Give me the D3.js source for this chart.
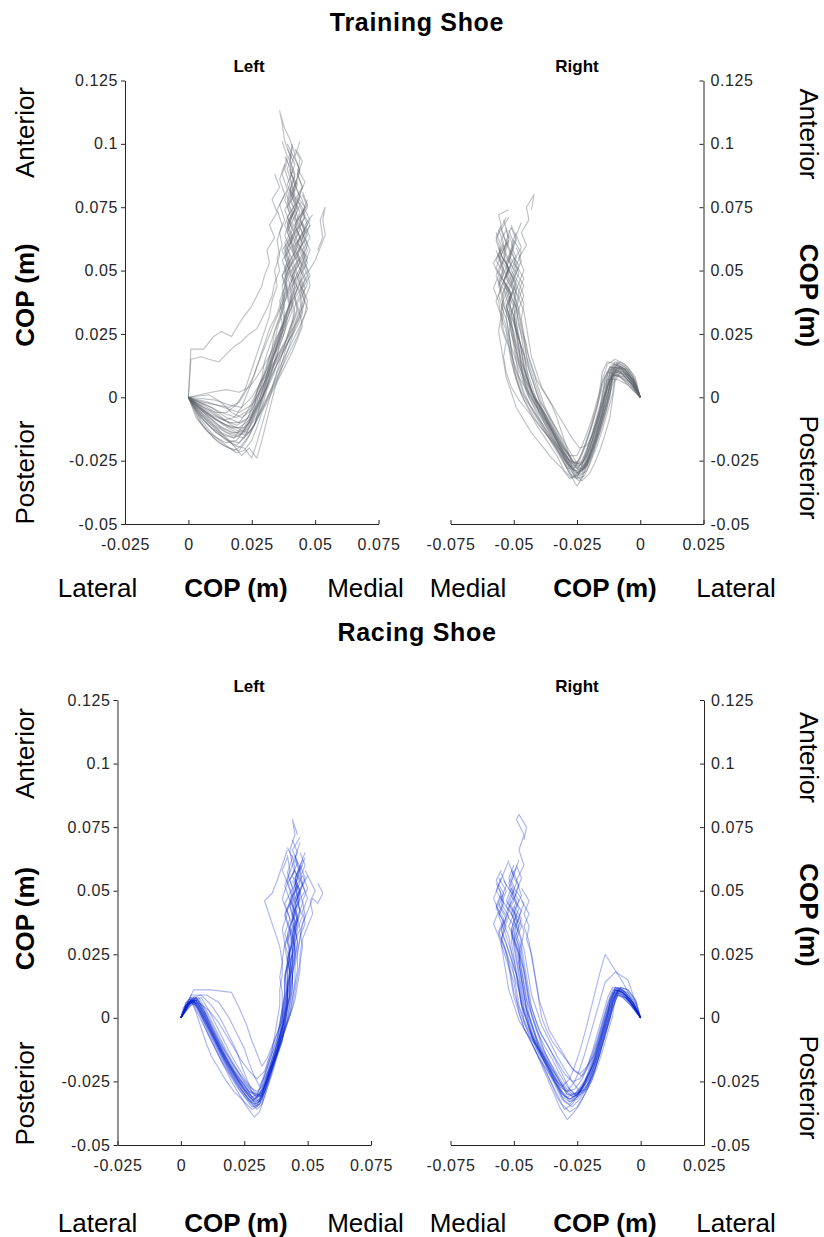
<!DOCTYPE html>
<html>
<head>
<meta charset="utf-8">
<script src="https://cdn.jsdelivr.net/npm/d3@7"></script>
<style>
  body { margin: 0; background: #fff; }
  svg { font-family: "Liberation Sans", Arial, sans-serif; }
</style>
</head>
<body>
<div id="chart"></div>
<script>
// COP values in mm (tick labels are shown in m)
const yTicks = [-50, -25, 0, 25, 50, 75, 100, 125];
const xTicksLeft = [-25, 0, 25, 50, 75];
const xTicksRight = [-75, -50, -25, 0, 25];

const trainingLeft = [
  [[0,0],[5,-4],[10,-8],[15,-11],[20,-12],[24,-9],[27,-4],[30,2],[32,8],[34,14],[36,20],[38,26],[39,31],[41,36],[40,41],[42,46],[40,51],[43,56],[41,61],[44,66],[42,71],[44,76],[41,81],[43,86]],
  [[0,0],[5,-6],[11,-11],[17,-15],[22,-16],[26,-11],[29,-4],[31,3],[34,10],[36,17],[39,23],[41,29],[43,35],[42,40],[44,45],[42,50],[45,55],[43,60],[46,65],[44,70],[46,75],[43,79]],
  [[0,0],[7,-3],[13,-6],[19,-8],[24,-5],[27,0],[30,6],[32,12],[34,18],[36,24],[38,30],[37,35],[39,40],[38,45],[40,50],[38,55],[41,60],[39,65],[41,70],[39,75],[42,80],[40,86],[42,92],[39,98]],
  [[0,0],[6,-7],[12,-13],[17,-18],[21,-23],[24,-20],[27,-24],[29,-17],[31,-9],[33,-1],[35,7],[37,14],[39,21],[41,28],[43,34],[42,39],[45,44],[43,49],[46,54],[44,59],[47,64],[45,69]],
  [[0,0],[1,19],[6,19],[10,24],[13,26],[17,24],[20,29],[22,32],[25,36],[27,40],[29,44],[30,48],[32,53],[31,58],[34,63],[32,68],[35,73],[33,78],[36,83],[34,88]],
  [[0,0],[1,15],[5,16],[8,15],[12,14],[15,17],[18,20],[21,22],[24,25],[27,27],[29,31],[31,35],[33,40],[34,45],[36,50],[35,55],[37,60],[36,65],[38,70],[36,76],[39,82],[37,88],[39,95],[37,101]],
  [[0,0],[8,-2],[14,-4],[20,-6],[25,-3],[28,2],[31,8],[34,14],[37,20],[40,25],[43,30],[45,34],[46,39],[48,44],[47,49],[50,54],[52,59],[54,64],[53,70],[54,75],[52,70],[53,63],[51,58]],
  [[0,0],[5,-8],[10,-13],[15,-17],[19,-19],[22,-16],[25,-10],[28,-4],[30,2],[32,8],[34,14],[35,20],[37,26],[38,32],[40,37],[39,42],[41,47],[39,52],[42,57],[40,62],[43,67],[41,72],[43,77],[40,82],[42,88],[40,94],[41,100]],
  [[0,0],[9,2],[15,3],[20,2],[24,4],[27,8],[30,13],[33,18],[35,23],[37,28],[39,33],[41,38],[43,43],[45,48],[43,53],[46,58],[44,63],[47,68],[45,73],[47,78]],
  [[0,0],[4,-7],[9,-12],[14,-15],[18,-16],[21,-12],[24,-7],[26,-1],[28,5],[31,11],[33,17],[35,23],[37,29],[36,34],[38,39],[37,44],[39,49],[37,54],[40,59],[38,64],[40,69],[38,74],[41,79],[39,84],[41,89],[38,95]],
  [[0,0],[7,-6],[13,-10],[19,-13],[24,-14],[27,-9],[30,-3],[33,4],[35,10],[38,16],[41,22],[44,28],[46,33],[47,38],[45,43],[48,48],[46,53],[48,58],[46,63],[48,68],[45,73]],
  [[0,0],[6,-9],[11,-14],[16,-17],[20,-18],[23,-14],[26,-7],[29,0],[31,7],[33,14],[35,21],[37,27],[38,33],[37,38],[39,43],[37,48],[40,53],[38,58],[41,63],[39,68],[41,73],[39,78],[42,84],[40,90],[42,96],[40,102],[38,106]],
  [[0,0],[8,-5],[14,-9],[19,-11],[23,-9],[26,-3],[28,3],[30,10],[32,16],[34,22],[37,28],[39,34],[41,40],[43,45],[41,50],[44,55],[42,60],[45,65],[43,70],[46,75],[44,80],[46,85],[43,90]],
  [[0,0],[5,-5],[11,-9],[17,-12],[22,-12],[25,-7],[28,-1],[30,6],[32,13],[34,20],[35,27],[37,33],[36,38],[38,43],[37,48],[39,53],[37,58],[40,63],[38,68],[40,73],[38,78],[40,84],[38,90],[40,96],[38,101],[37,108],[36,113],[38,106]],
  [[0,0],[3,-5],[8,-10],[13,-14],[18,-16],[22,-14],[25,-9],[28,-3],[31,4],[34,11],[37,17],[40,23],[42,29],[44,35],[46,40],[44,45],[47,50],[45,55],[47,60],[45,65],[48,70],[46,74]],
  [[0,0],[7,-9],[13,-15],[18,-19],[22,-20],[25,-24],[27,-18],[29,-11],[31,-4],[33,3],[35,10],[37,17],[39,24],[41,30],[42,36],[44,41],[42,46],[45,51],[43,56],[45,61],[43,66],[46,71]],
  [[0,0],[10,-1],[16,-3],[21,-4],[25,0],[28,5],[31,11],[34,17],[37,23],[39,29],[41,34],[40,39],[42,44],[40,49],[43,54],[41,59],[43,64],[41,69],[43,74],[41,79],[43,84],[40,89]],
  [[0,0],[6,-3],[12,-7],[17,-11],[21,-13],[24,-10],[27,-4],[29,2],[31,9],[33,16],[36,22],[38,28],[40,34],[42,39],[41,44],[43,49],[41,54],[44,59],[42,64],[44,69],[42,74],[44,79],[42,84],[44,90],[41,96]],
  [[0,0],[4,-9],[8,-14],[12,-18],[16,-20],[20,-21],[23,-17],[26,-11],[28,-4],[30,3],[32,10],[34,17],[36,23],[38,29],[40,35],[39,40],[41,45],[39,50],[42,55],[40,60],[42,65],[40,70],[43,75],[41,80],[43,85]],
  [[0,0],[8,1],[13,-2],[17,-6],[21,-8],[25,-5],[28,1],[31,7],[34,13],[37,18],[40,23],[43,28],[45,33],[44,38],[46,43],[44,48],[47,53],[45,58],[48,63],[46,68],[49,72]],
  [[0,0],[6,-4],[11,-6],[15,-6],[19,-3],[22,2],[24,8],[26,14],[28,20],[30,26],[32,32],[33,38],[35,44],[34,50],[36,56],[35,62],[37,68],[35,74],[38,80],[36,86],[38,92]],
  [[0,0],[5,-7],[10,-11],[15,-14],[20,-15],[24,-12],[28,-6],[31,0],[34,6],[37,12],[40,18],[43,24],[45,30],[47,35],[45,40],[47,45],[45,50],[47,55],[44,60],[46,65],[44,70],[47,75],[45,80]],
  [[0,0],[7,-7],[13,-12],[18,-14],[22,-13],[25,-8],[27,-2],[29,5],[31,12],[33,19],[34,26],[36,32],[38,38],[40,44],[39,49],[41,54],[39,59],[42,64],[40,69],[42,74],[39,79],[41,84],[39,90],[41,96],[39,100]],
  [[0,0],[9,-4],[15,-8],[20,-10],[24,-8],[27,-3],[30,4],[32,11],[34,18],[36,25],[38,31],[40,37],[42,43],[41,48],[43,53],[41,58],[44,63],[42,68],[44,73],[42,78],[45,83],[43,88],[44,94],[42,98]],
  [[0,0],[6,-6],[12,-11],[17,-14],[21,-14],[24,-10],[26,-4],[27,2],[29,8],[30,14],[32,20],[34,26],[36,31],[38,36],[37,41],[39,46],[38,51],[40,56],[38,61],[41,66],[39,71],[42,76],[40,81],[42,87],[40,93],[41,99]],
  [[0,0],[4,-4],[9,-7],[14,-9],[18,-8],[21,-4],[23,1],[25,6],[27,12],[29,17],[31,22],[33,27],[35,32],[37,37],[39,42],[38,47],[40,52],[38,57],[41,62],[39,67],[41,72],[39,77],[42,82]],
  [[0,0],[5,-9],[10,-15],[15,-19],[19,-22],[22,-21],[25,-17],[27,-12],[29,-6],[32,0],[35,6],[38,12],[41,18],[43,23],[45,28],[44,33],[46,38],[44,43],[47,48],[45,53],[47,58],[45,63],[48,68]],
  [[0,0],[7,-5],[12,-8],[16,-10],[20,-10],[23,-6],[26,0],[29,6],[32,11],[35,16],[38,21],[40,27],[42,33],[41,38],[43,43],[41,48],[44,53],[42,58],[44,63],[42,68],[45,73],[43,78],[45,83],[43,88],[45,93],[43,97]],
  [[0,0],[3,-8],[7,-13],[11,-16],[15,-18],[19,-17],[22,-13],[25,-8],[28,-2],[31,4],[33,10],[35,16],[36,22],[38,28],[39,34],[41,39],[40,44],[42,49],[40,54],[43,59],[41,64],[43,69],[41,74],[44,79],[42,84],[44,89],[42,95],[44,101]],
  [[0,0],[8,-7],[14,-11],[19,-14],[23,-15],[26,-11],[28,-5],[30,1],[32,7],[35,13],[38,19],[41,25],[43,31],[45,36],[44,41],[46,46],[44,51],[46,56],[43,61],[46,66],[44,71],[47,76],[45,81]],
  [[0,0],[6,-2],[11,-3],[16,-4],[20,-2],[23,3],[26,9],[28,15],[30,21],[32,27],[35,33],[37,39],[39,44],[38,49],[40,54],[38,59],[41,64],[39,69],[42,74],[40,79],[42,84],[40,90]],
  [[0,0],[5,-10],[10,-16],[14,-19],[18,-21],[21,-19],[24,-15],[27,-9],[30,-3],[33,3],[36,9],[38,15],[40,21],[42,27],[44,32],[43,37],[45,42],[43,47],[45,52],[43,57],[46,62],[44,67],[46,72],[44,77]]
];

const trainingRight = [
  [[0,0],[-3,7],[-6,11],[-9,12],[-11,8],[-12,1],[-14,-6],[-16,-13],[-18,-19],[-20,-24],[-22,-28],[-25,-28],[-28,-23],[-31,-18],[-34,-13],[-37,-8],[-40,-3],[-43,2],[-45,8],[-47,14],[-48,20],[-49,26],[-50,32],[-52,37],[-50,42],[-53,47],[-51,52],[-54,57],[-52,62]],
  [[0,0],[-2,8],[-5,12],[-8,14],[-11,11],[-13,4],[-15,-3],[-17,-10],[-19,-17],[-21,-23],[-23,-29],[-26,-30],[-29,-25],[-32,-19],[-35,-14],[-38,-9],[-41,-4],[-44,1],[-46,7],[-48,13],[-49,19],[-51,25],[-52,31],[-54,36],[-52,41],[-55,46],[-53,51],[-56,56],[-54,61],[-56,66]],
  [[0,0],[-4,6],[-8,10],[-12,11],[-14,6],[-15,-1],[-17,-8],[-19,-15],[-21,-21],[-23,-27],[-25,-32],[-28,-30],[-31,-24],[-34,-18],[-37,-12],[-40,-6],[-42,0],[-44,6],[-46,12],[-47,18],[-48,24],[-49,30],[-48,35],[-50,40],[-48,45],[-51,50],[-49,55],[-51,60],[-49,65]],
  [[0,0],[-3,9],[-6,13],[-10,15],[-13,13],[-15,7],[-16,0],[-18,-7],[-20,-14],[-22,-20],[-24,-25],[-27,-26],[-30,-22],[-33,-17],[-36,-11],[-39,-5],[-42,0],[-44,6],[-46,12],[-47,18],[-48,24],[-50,30],[-52,36],[-51,41],[-54,46],[-52,51],[-55,56],[-53,61],[-55,66],[-52,71]],
  [[0,0],[-4,5],[-8,8],[-11,9],[-13,4],[-14,-3],[-16,-10],[-18,-17],[-20,-23],[-22,-29],[-24,-33],[-27,-31],[-30,-25],[-33,-19],[-36,-13],[-39,-7],[-42,-2],[-45,4],[-47,10],[-49,16],[-50,22],[-51,28],[-53,34],[-55,39],[-53,44],[-56,49],[-54,54],[-56,59]],
  [[0,0],[-3,6],[-7,10],[-10,11],[-12,6],[-13,-1],[-15,-8],[-17,-15],[-19,-21],[-21,-27],[-23,-32],[-25,-35],[-28,-30],[-31,-24],[-35,-17],[-39,-10],[-43,-4],[-46,2],[-48,8],[-49,14],[-50,20],[-51,26],[-52,32],[-51,38],[-53,43],[-51,48],[-53,53],[-51,58]],
  [[0,0],[-3,7],[-6,11],[-9,13],[-11,9],[-12,2],[-14,-5],[-16,-12],[-18,-18],[-20,-23],[-22,-27],[-25,-26],[-28,-21],[-31,-16],[-34,-11],[-37,-6],[-40,-1],[-42,5],[-44,11],[-45,17],[-46,23],[-47,29],[-48,35],[-46,40],[-48,45],[-46,50],[-48,55],[-45,60],[-47,65],[-44,70],[-45,75],[-42,80],[-43,74]],
  [[0,0],[-4,4],[-8,8],[-11,9],[-13,4],[-15,-3],[-17,-10],[-19,-17],[-21,-23],[-24,-27],[-27,-25],[-31,-19],[-35,-13],[-39,-7],[-42,-2],[-45,3],[-48,8],[-50,14],[-52,20],[-53,26],[-55,32],[-56,38],[-58,43],[-56,48],[-58,53],[-55,58],[-57,63],[-55,68],[-56,72],[-52,74]],
  [[0,0],[-2,6],[-5,10],[-9,12],[-11,8],[-13,1],[-15,-6],[-17,-13],[-19,-19],[-21,-25],[-23,-30],[-26,-31],[-29,-26],[-32,-20],[-35,-15],[-38,-10],[-41,-5],[-44,0],[-46,6],[-47,12],[-49,18],[-50,24],[-51,30],[-53,35],[-51,40],[-54,45],[-52,50],[-54,55]],
  [[0,0],[-5,8],[-9,13],[-13,14],[-15,10],[-16,3],[-17,-4],[-19,-11],[-21,-17],[-23,-22],[-25,-26],[-28,-25],[-31,-20],[-34,-14],[-37,-8],[-40,-3],[-43,2],[-45,8],[-47,14],[-48,20],[-49,26],[-51,32],[-50,37],[-52,42],[-50,47],[-53,52],[-51,57],[-53,62],[-51,67]],
  [[0,0],[-4,7],[-8,10],[-11,10],[-13,5],[-15,-2],[-17,-9],[-19,-15],[-21,-19],[-24,-20],[-27,-16],[-30,-11],[-33,-6],[-36,-1],[-39,4],[-41,10],[-43,16],[-44,22],[-45,28],[-46,34],[-48,39],[-46,44],[-49,49],[-47,54],[-49,59]],
  [[0,0],[-3,7],[-7,11],[-10,12],[-12,7],[-14,0],[-16,-7],[-18,-14],[-20,-20],[-22,-25],[-25,-28],[-28,-27],[-32,-22],[-36,-16],[-40,-11],[-44,-6],[-48,-1],[-51,4],[-53,10],[-54,16],[-53,22],[-55,28],[-54,34],[-56,40],[-54,46],[-57,51],[-55,56],[-57,62],[-55,67]],
  [[0,0],[-3,5],[-6,8],[-9,9],[-11,5],[-13,-2],[-15,-9],[-17,-16],[-19,-22],[-21,-27],[-24,-30],[-27,-28],[-30,-23],[-33,-17],[-36,-11],[-39,-5],[-42,0],[-44,6],[-45,12],[-46,18],[-47,24],[-48,30],[-49,36],[-48,42],[-50,47],[-48,52],[-51,57],[-49,62],[-51,67]],
  [[0,0],[-5,5],[-9,7],[-13,7],[-15,2],[-16,-5],[-18,-12],[-20,-18],[-22,-24],[-24,-29],[-27,-32],[-30,-29],[-33,-23],[-37,-17],[-41,-11],[-44,-5],[-47,1],[-49,7],[-50,13],[-51,19],[-52,25],[-53,31],[-55,36],[-53,41],[-56,46],[-54,51],[-56,56]],
  [[0,0],[-3,8],[-6,12],[-10,14],[-12,10],[-13,3],[-15,-4],[-17,-11],[-19,-17],[-21,-22],[-23,-26],[-26,-26],[-29,-21],[-32,-15],[-35,-9],[-38,-3],[-40,3],[-42,9],[-44,15],[-45,21],[-47,27],[-48,33],[-50,38],[-49,43],[-51,48],[-49,53],[-51,58],[-49,63],[-51,68]],
  [[0,0],[-3,5],[-7,8],[-10,9],[-12,4],[-14,-3],[-16,-10],[-18,-17],[-20,-23],[-22,-28],[-25,-30],[-28,-27],[-31,-22],[-35,-16],[-39,-10],[-42,-4],[-45,2],[-47,8],[-49,14],[-51,20],[-52,26],[-53,32],[-52,37],[-54,42],[-52,47],[-55,52],[-53,57],[-55,62],[-53,66]],
  [[0,0],[-4,8],[-7,12],[-11,13],[-13,9],[-14,2],[-16,-5],[-18,-12],[-20,-18],[-22,-23],[-24,-27],[-27,-27],[-30,-22],[-33,-16],[-36,-10],[-39,-4],[-41,2],[-43,8],[-45,14],[-47,20],[-49,26],[-50,32],[-52,38],[-50,43],[-53,48],[-51,53],[-54,58],[-52,63],[-54,70]],
  [[0,0],[-2,7],[-5,11],[-8,12],[-10,8],[-11,1],[-13,-6],[-15,-13],[-17,-19],[-19,-24],[-21,-29],[-24,-31],[-27,-27],[-30,-21],[-33,-15],[-36,-9],[-39,-4],[-42,1],[-45,6],[-47,12],[-48,18],[-49,24],[-50,30],[-49,35],[-51,40],[-49,45],[-52,50],[-50,55]],
  [[0,0],[-4,6],[-8,10],[-12,12],[-14,8],[-16,1],[-18,-6],[-20,-13],[-22,-19],[-24,-24],[-26,-28],[-29,-28],[-32,-23],[-35,-18],[-38,-13],[-41,-8],[-44,-3],[-47,2],[-49,8],[-51,14],[-52,20],[-54,26],[-55,32],[-54,38],[-56,44],[-54,49],[-57,54],[-55,60],[-57,65]],
  [[0,0],[-3,6],[-6,10],[-9,11],[-11,7],[-12,0],[-14,-7],[-16,-14],[-18,-20],[-20,-26],[-22,-31],[-25,-32],[-28,-28],[-31,-22],[-34,-16],[-37,-10],[-40,-4],[-43,2],[-45,8],[-46,14],[-47,20],[-49,26],[-50,32],[-49,38],[-51,44],[-49,49],[-52,54],[-50,59],[-52,64]],
  [[0,0],[-4,7],[-7,11],[-11,12],[-13,7],[-14,0],[-15,-7],[-17,-14],[-19,-20],[-21,-25],[-23,-29],[-26,-29],[-29,-24],[-33,-19],[-37,-14],[-40,-9],[-43,-4],[-46,1],[-48,7],[-50,13],[-51,19],[-52,25],[-51,31],[-53,36],[-51,41],[-54,46],[-52,51],[-54,56],[-52,61],[-53,67]],
  [[0,0],[-3,6],[-6,9],[-10,10],[-12,6],[-13,-1],[-15,-8],[-17,-15],[-19,-21],[-21,-26],[-24,-28],[-27,-25],[-30,-20],[-33,-14],[-36,-8],[-39,-2],[-41,4],[-43,10],[-45,16],[-46,22],[-48,28],[-49,34],[-48,39],[-50,44],[-48,49],[-50,54],[-47,59],[-49,64],[-47,69]],
  [[0,0],[-3,8],[-6,12],[-9,14],[-11,10],[-12,3],[-13,-4],[-15,-11],[-17,-17],[-19,-23],[-21,-27],[-24,-29],[-27,-26],[-29,-20],[-31,-14],[-33,-8],[-35,-3],[-38,2],[-41,7],[-43,13],[-45,19],[-46,25],[-47,31],[-46,37],[-48,42],[-46,47],[-49,52],[-47,57],[-50,62]],
  [[0,0],[-4,6],[-7,9],[-10,10],[-12,5],[-14,-2],[-16,-9],[-18,-16],[-20,-22],[-22,-27],[-25,-31],[-28,-32],[-31,-28],[-35,-24],[-39,-19],[-43,-14],[-46,-9],[-49,-4],[-51,2],[-53,8],[-54,14],[-55,20],[-56,26],[-55,32],[-57,38],[-55,43],[-57,48],[-55,53],[-57,58]],
  [[0,0],[-2,6],[-5,9],[-8,10],[-10,6],[-11,-1],[-12,-8],[-14,-15],[-16,-21],[-18,-26],[-20,-30],[-23,-33],[-26,-30],[-29,-25],[-32,-19],[-35,-13],[-38,-8],[-41,-3],[-44,2],[-46,8],[-48,14],[-49,20],[-50,26],[-52,31],[-50,36],[-53,41],[-51,46],[-53,51],[-51,56],[-53,61]],
  [[0,0],[-5,6],[-9,9],[-13,10],[-15,6],[-17,-1],[-19,-8],[-21,-14],[-23,-19],[-25,-23],[-28,-23],[-31,-19],[-34,-14],[-37,-9],[-40,-4],[-43,1],[-45,6],[-47,12],[-48,18],[-50,24],[-51,30],[-53,36],[-51,41],[-54,46],[-52,51],[-55,56],[-53,61],[-55,67],[-53,71]],
  [[0,0],[-3,7],[-6,11],[-10,13],[-12,9],[-14,2],[-15,-5],[-17,-12],[-19,-18],[-21,-24],[-23,-28],[-26,-29],[-29,-26],[-32,-21],[-36,-16],[-40,-11],[-43,-6],[-46,-1],[-48,4],[-50,10],[-51,16],[-52,22],[-53,28],[-55,34],[-54,40],[-56,45],[-54,50],[-56,55],[-54,60]],
  [[0,0],[-4,8],[-8,11],[-12,12],[-14,7],[-15,0],[-17,-7],[-19,-14],[-21,-20],[-23,-25],[-26,-27],[-29,-24],[-32,-19],[-35,-13],[-38,-7],[-41,-1],[-43,5],[-45,11],[-46,17],[-48,23],[-49,29],[-50,35],[-49,41],[-51,46],[-49,51],[-52,56],[-50,61],[-52,66]]
];

const racingLeft = [
  [[0,0],[2,5],[5,7],[8,2],[11,-4],[14,-10],[17,-16],[20,-21],[23,-26],[26,-30],[29,-33],[31,-32],[33,-27],[35,-21],[37,-15],[39,-10],[40,-4],[41,2],[42,8],[42,14],[43,20],[43,26],[44,32],[45,37],[44,42],[46,47],[45,52],[47,57],[45,62]],
  [[0,0],[2,4],[5,8],[8,4],[11,-2],[14,-8],[17,-14],[20,-19],[23,-24],[26,-28],[29,-32],[32,-30],[34,-24],[36,-18],[38,-12],[40,-6],[41,0],[42,6],[42,12],[43,18],[44,24],[45,30],[47,35],[46,40],[48,45],[47,50],[49,55],[47,60],[49,65]],
  [[0,0],[3,6],[6,6],[9,0],[12,-6],[15,-12],[18,-18],[21,-23],[24,-28],[27,-33],[30,-36],[32,-34],[34,-28],[36,-22],[38,-15],[40,-9],[41,-3],[42,3],[43,9],[43,15],[44,21],[44,27],[45,33],[44,38],[46,43],[44,48],[47,53],[45,58]],
  [[0,0],[5,11],[12,11],[20,10],[23,4],[26,-3],[28,-9],[30,-14],[32,-19],[34,-16],[36,-11],[38,-6],[40,-1],[41,5],[42,11],[41,17],[43,23],[41,29],[43,35],[41,41],[44,47],[42,53],[45,58]],
  [[0,0],[4,7],[7,5],[10,-1],[13,-7],[16,-13],[19,-18],[22,-23],[25,-27],[28,-31],[31,-33],[33,-29],[35,-23],[37,-17],[39,-11],[41,-5],[43,1],[44,7],[45,13],[46,19],[46,25],[47,31],[48,37],[50,42],[52,47],[54,45],[56,49],[54,53]],
  [[0,0],[3,5],[6,7],[9,1],[12,-5],[15,-11],[18,-17],[21,-22],[24,-27],[27,-31],[30,-33],[32,-30],[34,-24],[36,-18],[38,-12],[39,-6],[40,0],[41,6],[42,12],[42,18],[43,24],[42,30],[44,36],[42,42],[44,48],[42,54],[44,60],[43,66],[45,72],[44,78],[46,72]],
  [[0,0],[2,5],[5,6],[8,0],[11,-7],[14,-13],[17,-19],[20,-25],[23,-30],[26,-35],[29,-39],[31,-37],[33,-31],[35,-24],[37,-17],[39,-10],[40,-4],[41,2],[42,8],[43,14],[43,20],[44,26],[43,32],[45,38],[43,44],[46,49],[44,54]],
  [[0,0],[3,4],[6,7],[9,2],[12,-4],[15,-10],[18,-16],[21,-21],[24,-25],[27,-29],[30,-30],[32,-26],[34,-20],[36,-14],[38,-8],[39,-2],[40,4],[40,10],[39,16],[40,22],[39,28],[37,34],[35,40],[33,46],[36,49],[38,54],[40,60],[42,66]],
  [[0,0],[4,6],[7,4],[10,-2],[13,-8],[16,-14],[19,-19],[22,-24],[25,-28],[28,-31],[31,-30],[34,-25],[36,-19],[38,-13],[40,-7],[42,-1],[43,5],[44,11],[44,17],[45,23],[46,29],[45,35],[47,41],[46,47],[48,52],[46,57],[48,62]],
  [[0,0],[3,7],[6,8],[9,3],[12,-3],[15,-9],[18,-14],[21,-19],[24,-23],[27,-27],[30,-29],[33,-26],[35,-20],[37,-14],[39,-8],[40,-2],[41,4],[42,10],[43,16],[44,22],[44,28],[45,34],[44,40],[46,45],[44,50],[46,55],[44,60],[46,65],[44,70]],
  [[0,0],[2,6],[5,7],[8,1],[11,-5],[14,-11],[17,-17],[20,-22],[23,-27],[26,-31],[29,-35],[31,-34],[33,-28],[35,-22],[37,-16],[39,-10],[41,-4],[43,2],[44,8],[45,14],[45,20],[46,26],[47,32],[49,37],[48,42],[50,47],[48,52],[50,56]],
  [[0,0],[4,5],[7,6],[11,3],[15,-2],[18,-7],[21,-12],[24,-17],[27,-21],[30,-24],[33,-21],[35,-15],[37,-9],[39,-3],[40,3],[41,9],[41,15],[42,21],[43,27],[41,33],[43,39],[41,45],[44,51],[42,57],[44,63],[42,67]],
  [[0,0],[3,5],[6,8],[9,3],[12,-3],[15,-9],[18,-15],[21,-20],[24,-25],[27,-29],[30,-31],[32,-28],[34,-22],[36,-16],[38,-10],[40,-4],[41,2],[42,8],[43,14],[43,20],[44,26],[45,32],[46,38],[45,43],[47,48],[45,53],[47,58],[45,63],[47,69]],
  [[0,0],[4,6],[8,8],[11,3],[14,-3],[17,-9],[20,-15],[23,-20],[26,-25],[29,-29],[32,-31],[34,-27],[36,-21],[38,-15],[40,-9],[41,-3],[42,3],[43,9],[43,15],[44,21],[45,27],[44,33],[46,39],[45,45],[47,50],[45,55],[47,60]],
  [[0,0],[1,4],[4,7],[7,1],[10,-5],[13,-11],[16,-17],[19,-22],[22,-27],[25,-31],[28,-35],[31,-34],[33,-29],[35,-23],[37,-17],[39,-11],[41,-5],[43,1],[45,7],[46,13],[47,19],[47,25],[48,31],[50,36],[52,41],[51,46],[53,50],[51,54],[49,58]],
  [[0,0],[2,4],[4,7],[6,2],[8,-4],[10,-10],[12,-15],[15,-20],[18,-25],[21,-29],[25,-33],[28,-36],[30,-35],[32,-30],[34,-24],[36,-18],[38,-12],[40,-6],[41,0],[42,6],[42,12],[43,18],[42,24],[44,30],[43,36],[45,42],[43,47],[46,52]],
  [[0,0],[3,6],[6,7],[9,2],[12,-5],[15,-11],[18,-17],[21,-22],[24,-27],[27,-31],[30,-34],[32,-31],[34,-25],[36,-19],[38,-13],[39,-7],[41,-1],[42,5],[42,11],[43,17],[42,23],[44,29],[43,35],[45,41],[43,46],[46,51],[44,56],[46,61],[44,66],[47,71]],
  [[0,0],[4,9],[10,9],[15,6],[19,0],[22,-6],[25,-12],[27,-18],[29,-23],[31,-27],[33,-23],[35,-17],[37,-11],[39,-5],[40,1],[41,7],[42,13],[42,19],[43,25],[44,31],[46,36],[44,41],[47,46],[45,51],[48,56]],
  [[0,0],[2,5],[5,8],[8,3],[11,-3],[14,-9],[17,-15],[20,-20],[23,-25],[26,-29],[29,-32],[31,-30],[33,-24],[36,-18],[38,-12],[40,-6],[42,0],[43,6],[44,12],[44,18],[45,24],[46,30],[45,36],[47,42],[46,48],[48,53],[47,58],[49,63]],
  [[0,0],[3,6],[7,7],[10,1],[13,-6],[16,-12],[19,-18],[22,-23],[25,-28],[28,-32],[30,-35],[32,-33],[34,-26],[36,-20],[38,-14],[39,-8],[40,-2],[40,4],[41,10],[41,16],[42,22],[41,28],[43,34],[41,40],[43,46],[41,52],[43,58],[42,64]],
  [[0,0],[3,5],[6,8],[9,4],[12,-2],[15,-8],[18,-14],[21,-19],[24,-24],[27,-28],[30,-31],[32,-29],[34,-24],[36,-19],[38,-14],[40,-8],[42,-2],[44,4],[45,10],[46,16],[47,22],[48,28],[47,34],[49,40],[48,46],[50,51],[48,56]],
  [[0,0],[2,6],[4,8],[7,3],[10,-3],[13,-9],[16,-15],[19,-21],[22,-26],[25,-30],[28,-33],[30,-31],[32,-25],[34,-19],[36,-13],[37,-7],[38,-1],[39,5],[39,11],[40,17],[40,23],[41,29],[40,35],[42,41],[40,47],[42,53],[40,58],[42,63]],
  [[0,0],[4,8],[8,9],[12,5],[16,-1],[19,-7],[22,-13],[24,-19],[26,-24],[28,-29],[30,-32],[32,-29],[34,-22],[36,-16],[38,-10],[40,-4],[41,2],[43,8],[44,14],[44,20],[45,26],[44,32],[46,38],[44,44],[47,49],[45,54],[47,59],[45,64]],
  [[0,0],[3,5],[5,7],[8,1],[11,-6],[14,-12],[17,-18],[20,-23],[23,-28],[26,-32],[29,-34],[32,-32],[34,-26],[36,-20],[38,-14],[40,-8],[41,-2],[42,4],[43,10],[44,16],[43,22],[45,28],[44,34],[46,40],[44,45],[47,50],[45,55],[48,60]],
  [[0,0],[2,5],[5,7],[8,2],[11,-4],[14,-10],[17,-16],[20,-22],[23,-27],[26,-31],[29,-34],[31,-33],[33,-27],[35,-20],[37,-13],[39,-7],[41,-1],[42,5],[43,11],[44,17],[45,23],[45,29],[46,35],[48,40],[46,45],[49,50],[47,55],[49,60],[47,65]],
  [[0,0],[4,7],[7,8],[10,3],[13,-3],[16,-9],[19,-15],[22,-20],[25,-25],[28,-29],[31,-31],[33,-27],[35,-21],[37,-15],[38,-9],[39,-3],[40,3],[41,9],[41,15],[42,21],[43,27],[42,33],[44,39],[43,44],[45,49],[43,54],[45,59],[44,64]]
];

const racingRight = [
  [[0,0],[-3,5],[-6,9],[-9,11],[-11,7],[-13,1],[-15,-6],[-17,-13],[-19,-19],[-21,-24],[-24,-29],[-27,-32],[-30,-31],[-33,-26],[-36,-20],[-39,-14],[-42,-8],[-44,-2],[-46,4],[-47,10],[-48,16],[-49,22],[-50,28],[-51,34],[-50,39],[-53,44],[-51,49],[-54,54]],
  [[0,0],[-4,6],[-7,10],[-10,11],[-12,6],[-14,-1],[-16,-8],[-18,-15],[-20,-21],[-22,-26],[-25,-31],[-28,-34],[-31,-32],[-34,-26],[-37,-20],[-40,-13],[-43,-7],[-45,-1],[-47,5],[-48,11],[-49,17],[-50,23],[-52,29],[-54,35],[-52,40],[-55,45],[-53,50],[-56,55]],
  [[0,0],[-2,7],[-5,11],[-8,12],[-10,9],[-12,2],[-14,-5],[-16,-12],[-18,-18],[-20,-23],[-23,-28],[-26,-31],[-29,-30],[-32,-25],[-35,-19],[-38,-13],[-40,-7],[-42,-1],[-44,5],[-45,11],[-46,17],[-47,23],[-49,29],[-51,35],[-49,40],[-52,45],[-50,50],[-52,55],[-50,60]],
  [[0,0],[-7,14],[-14,25],[-16,18],[-18,10],[-20,2],[-22,-6],[-24,-13],[-26,-19],[-28,-24],[-31,-27],[-34,-24],[-37,-18],[-40,-12],[-43,-6],[-45,0],[-47,6],[-48,12],[-49,18],[-50,24],[-51,30],[-50,36],[-53,41],[-51,46]],
  [[0,0],[-3,6],[-6,10],[-9,12],[-11,8],[-13,1],[-15,-6],[-17,-13],[-19,-19],[-22,-25],[-25,-30],[-28,-32],[-31,-30],[-34,-24],[-37,-18],[-40,-12],[-42,-6],[-44,0],[-46,6],[-47,12],[-48,18],[-49,24],[-50,30],[-48,36],[-50,42],[-47,48],[-49,54],[-46,60],[-48,66],[-46,72],[-49,78],[-48,80],[-45,75],[-46,70]],
  [[0,0],[-4,5],[-8,9],[-11,10],[-13,5],[-15,-2],[-17,-9],[-19,-15],[-21,-20],[-23,-23],[-26,-21],[-29,-17],[-32,-13],[-35,-9],[-37,-5],[-39,0],[-40,6],[-41,12],[-42,18],[-43,24],[-44,30],[-46,36],[-44,41],[-47,46]],
  [[0,0],[-3,4],[-6,8],[-9,10],[-11,5],[-13,-2],[-15,-9],[-17,-16],[-19,-22],[-21,-28],[-24,-34],[-27,-38],[-29,-40],[-32,-35],[-35,-28],[-38,-21],[-41,-14],[-44,-7],[-46,-1],[-47,5],[-48,11],[-49,17],[-51,23],[-53,29],[-55,35],[-53,40],[-56,45]],
  [[0,0],[-4,6],[-7,10],[-10,11],[-12,6],[-14,-1],[-16,-8],[-18,-15],[-20,-21],[-23,-26],[-26,-30],[-29,-31],[-32,-28],[-36,-22],[-40,-16],[-43,-10],[-46,-4],[-48,2],[-49,8],[-50,14],[-52,20],[-54,26],[-56,32],[-58,37],[-56,42],[-58,47],[-56,52],[-54,57],[-52,62]],
  [[0,0],[-3,5],[-6,8],[-9,9],[-11,4],[-13,-3],[-15,-10],[-17,-17],[-19,-23],[-22,-28],[-25,-32],[-28,-33],[-31,-29],[-34,-23],[-37,-17],[-40,-11],[-42,-5],[-44,1],[-45,7],[-46,13],[-47,19],[-48,25],[-50,31],[-52,36],[-50,41],[-53,46],[-51,51]],
  [[0,0],[-4,7],[-8,11],[-11,12],[-13,8],[-15,1],[-17,-6],[-19,-13],[-21,-19],[-23,-24],[-26,-28],[-29,-29],[-32,-25],[-35,-20],[-38,-14],[-41,-8],[-43,-2],[-45,4],[-46,10],[-47,16],[-48,22],[-48,28],[-50,34],[-48,39],[-51,44],[-49,49],[-51,54],[-49,59]],
  [[0,0],[-5,15],[-10,18],[-14,14],[-16,7],[-18,0],[-20,-7],[-22,-14],[-24,-20],[-26,-25],[-29,-29],[-32,-27],[-35,-21],[-38,-15],[-41,-9],[-43,-3],[-45,3],[-46,9],[-47,15],[-48,21],[-47,27],[-49,33],[-47,39],[-50,44]],
  [[0,0],[-3,6],[-6,9],[-9,10],[-11,6],[-13,-1],[-15,-8],[-17,-15],[-19,-21],[-21,-27],[-24,-32],[-27,-35],[-30,-33],[-33,-27],[-36,-21],[-39,-15],[-42,-9],[-44,-3],[-45,3],[-46,9],[-47,15],[-48,21],[-49,27],[-51,33],[-49,38],[-52,43],[-50,48],[-52,53],[-50,58]],
  [[0,0],[-4,6],[-7,9],[-10,10],[-12,5],[-14,-2],[-16,-9],[-18,-16],[-20,-22],[-23,-27],[-26,-30],[-29,-30],[-32,-26],[-36,-20],[-40,-14],[-43,-8],[-46,-2],[-48,4],[-50,10],[-51,16],[-52,22],[-54,28],[-56,33],[-54,38],[-57,43],[-55,48]],
  [[0,0],[-3,5],[-6,9],[-9,11],[-11,7],[-12,0],[-14,-7],[-16,-14],[-18,-20],[-20,-25],[-23,-29],[-26,-30],[-29,-27],[-32,-22],[-35,-16],[-38,-11],[-41,-5],[-43,1],[-44,7],[-45,13],[-46,19],[-47,25],[-49,31],[-47,36],[-50,41],[-48,46],[-51,51]],
  [[0,0],[-3,7],[-7,11],[-10,12],[-12,7],[-14,0],[-16,-7],[-18,-14],[-20,-20],[-22,-26],[-25,-31],[-28,-33],[-31,-31],[-34,-25],[-37,-19],[-40,-13],[-43,-7],[-46,-1],[-48,5],[-49,11],[-50,17],[-51,23],[-53,29],[-55,34],[-53,39],[-56,44],[-54,49],[-57,54],[-55,58]],
  [[0,0],[-3,6],[-7,10],[-10,11],[-12,6],[-14,-1],[-16,-8],[-18,-14],[-21,-19],[-24,-22],[-27,-20],[-30,-15],[-33,-10],[-36,-5],[-38,1],[-40,7],[-41,13],[-42,19],[-43,25],[-45,31],[-44,36],[-46,41],[-44,46],[-47,51]],
  [[0,0],[-4,5],[-7,8],[-10,9],[-12,4],[-14,-3],[-16,-10],[-18,-17],[-21,-23],[-24,-29],[-27,-34],[-30,-36],[-33,-31],[-36,-24],[-39,-17],[-42,-10],[-44,-4],[-46,2],[-47,8],[-48,14],[-50,20],[-51,26],[-52,32],[-54,37],[-52,42],[-55,47],[-53,52],[-55,57]],
  [[0,0],[-2,6],[-5,10],[-8,11],[-10,7],[-12,0],[-14,-7],[-16,-14],[-18,-20],[-20,-25],[-22,-29],[-25,-31],[-28,-28],[-31,-22],[-34,-16],[-37,-10],[-40,-5],[-42,1],[-44,7],[-45,13],[-46,19],[-48,25],[-50,31],[-49,36],[-51,41],[-49,46],[-52,51],[-50,56],[-52,61]],
  [[0,0],[-3,6],[-6,10],[-9,11],[-11,6],[-13,-1],[-15,-8],[-17,-15],[-19,-21],[-21,-26],[-24,-30],[-27,-31],[-30,-28],[-33,-23],[-37,-17],[-41,-11],[-45,-6],[-48,-1],[-50,5],[-52,11],[-53,17],[-54,23],[-55,29],[-54,35],[-56,40],[-54,45],[-57,50],[-55,55]],
  [[0,0],[-4,6],[-8,10],[-11,11],[-13,6],[-15,-1],[-17,-8],[-19,-14],[-21,-19],[-24,-24],[-27,-25],[-30,-22],[-33,-17],[-36,-12],[-39,-7],[-41,-2],[-43,4],[-44,10],[-45,16],[-46,22],[-47,28],[-46,34],[-48,40],[-46,45],[-49,50],[-47,55],[-49,60]],
  [[0,0],[-3,5],[-6,8],[-9,9],[-11,4],[-13,-3],[-15,-10],[-17,-17],[-19,-24],[-22,-30],[-25,-35],[-28,-37],[-31,-34],[-34,-28],[-37,-22],[-40,-16],[-43,-10],[-46,-4],[-48,2],[-50,8],[-51,14],[-52,20],[-53,26],[-55,31],[-53,36],[-56,41],[-54,46],[-56,51]],
  [[0,0],[-2,7],[-5,11],[-8,12],[-10,8],[-11,1],[-13,-6],[-15,-13],[-17,-19],[-19,-24],[-21,-28],[-24,-29],[-27,-25],[-30,-20],[-33,-15],[-36,-9],[-39,-3],[-41,3],[-43,9],[-44,15],[-45,21],[-46,27],[-48,33],[-50,38],[-48,43],[-51,48],[-49,53],[-51,58]],
  [[0,0],[-4,7],[-7,11],[-10,12],[-12,8],[-14,1],[-16,-6],[-18,-13],[-20,-19],[-22,-25],[-25,-30],[-28,-32],[-31,-30],[-34,-25],[-37,-19],[-40,-13],[-43,-7],[-45,-1],[-47,5],[-48,11],[-50,17],[-52,23],[-54,29],[-56,34],[-54,39],[-57,44],[-55,49],[-57,53]],
  [[0,0],[-3,6],[-7,10],[-10,11],[-12,7],[-13,0],[-15,-7],[-17,-14],[-19,-20],[-21,-25],[-24,-29],[-27,-30],[-30,-27],[-33,-22],[-36,-17],[-39,-11],[-41,-5],[-43,1],[-45,7],[-46,13],[-47,19],[-48,25],[-47,31],[-49,37],[-47,42],[-50,47],[-48,52],[-50,57],[-48,62]]
];

const GRAY = 'rgb(95,100,107)';
const BLUE = 'rgb(0,34,208)';
const TEXT = '#262626';

const svg = d3.select('#chart').append('svg')
    .attr('width', 824)
    .attr('height', 1237);

const panels = [
    { traces: trainingLeft,  xDomain: [-25, 75], xTicks: xTicksLeft,  left: 125,   right: 378.5, top: 80.5, bottom: 524,  side: 'left',  color: GRAY, opacity: 0.4 },
    { traces: trainingRight, xDomain: [-75, 25], xTicks: xTicksRight, left: 450.5, right: 703.5, top: 80.5, bottom: 524,  side: 'right', color: GRAY, opacity: 0.4 },
    { traces: racingLeft,    xDomain: [-25, 75], xTicks: xTicksLeft,  left: 117.5, right: 371,   top: 700,  bottom: 1145, side: 'left',  color: BLUE, opacity: 0.33 },
    { traces: racingRight,   xDomain: [-75, 25], xTicks: xTicksRight, left: 450.5, right: 704,   top: 700,  bottom: 1145, side: 'right', color: BLUE, opacity: 0.33 }
];

const fmt = d => String(d / 1000);

function styleAxis(sel) {
    sel.select('.domain').attr('stroke', TEXT);
    sel.selectAll('.tick line').attr('stroke', TEXT);
    sel.selectAll('text')
        .attr('font-size', 16)
        .attr('letter-spacing', 0.6)
        .attr('fill', TEXT)
        .attr('font-family', '"Liberation Sans", Arial, sans-serif');
}

panels.forEach(p => {
    const x = d3.scaleLinear().domain(p.xDomain).range([p.left, p.right]);
    const y = d3.scaleLinear().domain([-50, 125]).range([p.bottom, p.top]);
    const line = d3.line().x(d => x(d[0])).y(d => y(d[1]));

    const g = svg.append('g');

    g.append('g')
        .selectAll('path')
        .data(p.traces)
        .join('path')
        .attr('d', line)
        .attr('fill', 'none')
        .attr('stroke', p.color)
        .attr('stroke-opacity', p.opacity)
        .attr('stroke-width', 1.15)
        .attr('stroke-linejoin', 'round');

    const xAxis = d3.axisBottom(x)
        .tickValues(p.xTicks)
        .tickSize(-4)
        .tickSizeOuter(0)
        .tickPadding(15)
        .tickFormat(fmt);
    g.append('g')
        .attr('transform', `translate(0,${p.bottom})`)
        .call(xAxis)
        .call(styleAxis);

    if (p.side === 'left') {
        const yAxis = d3.axisLeft(y).tickValues(yTicks).tickSize(4).tickSizeOuter(0).tickPadding(3).tickFormat(fmt);
        g.append('g').attr('transform', `translate(${p.left},0)`).call(yAxis).call(styleAxis);
    } else {
        const yAxis = d3.axisRight(y).tickValues(yTicks).tickSize(-4).tickSizeOuter(0).tickPadding(7).tickFormat(fmt);
        g.append('g').attr('transform', `translate(${p.right},0)`).call(yAxis).call(styleAxis);
    }

    // panel title
    svg.append('text')
        .attr('x', p.side === 'left' ? 249 : 577)
        .attr('y', p.top - 8.5)
        .attr('text-anchor', 'middle')
        .attr('font-size', 17)
        .attr('font-weight', 'bold')
        .attr('fill', '#000')
        .text(p.side === 'left' ? 'Left' : 'Right');
});

// figure titles
const titles = [['Training Shoe', 31], ['Racing Shoe', 641]];
titles.forEach(([t, yy]) => {
    svg.append('text')
        .attr('x', 417)
        .attr('y', yy)
        .attr('text-anchor', 'middle')
        .attr('font-size', 25)
        .attr('letter-spacing', 0.7)
        .attr('font-weight', 'bold')
        .attr('fill', '#000')
        .text(t);
});

// bottom labels
function bottomLabels(yy) {
    const items = [
        ['Lateral', 97.5, 'normal'], ['COP (m)', 236, 'bold'], ['Medial', 365.5, 'normal'],
        ['Medial', 468, 'normal'], ['COP (m)', 605, 'bold'], ['Lateral', 736, 'normal']
    ];
    items.forEach(([t, xx, w]) => {
        svg.append('text')
            .attr('x', xx)
            .attr('y', yy)
            .attr('text-anchor', 'middle')
            .attr('font-size', 26)
            .attr('font-weight', w)
            .attr('fill', '#000')
            .text(t);
    });
}
bottomLabels(597);
bottomLabels(1232);

// side labels
function sideLabels(centers, rightCenters) {
    const names = [['Anterior', 'normal'], ['COP (m)', 'bold'], ['Posterior', 'normal']];
    names.forEach(([t, w], i) => {
        svg.append('text')
            .attr('transform', `translate(34,${centers[i]}) rotate(-90)`)
            .attr('text-anchor', 'middle')
            .attr('font-size', 26)
            .attr('font-weight', w)
            .attr('fill', '#000')
            .text(t);
        svg.append('text')
            .attr('transform', `translate(800,${rightCenters[i]}) rotate(90)`)
            .attr('text-anchor', 'middle')
            .attr('font-size', 26)
            .attr('font-weight', w)
            .attr('fill', '#000')
            .text(t);
    });
}
sideLabels([132.5, 295, 472.5], [134, 295.5, 467.5]);
sideLabels([753.5, 918.5, 1093.5], [757.5, 915, 1087.5]);
</script>
</body>
</html>
